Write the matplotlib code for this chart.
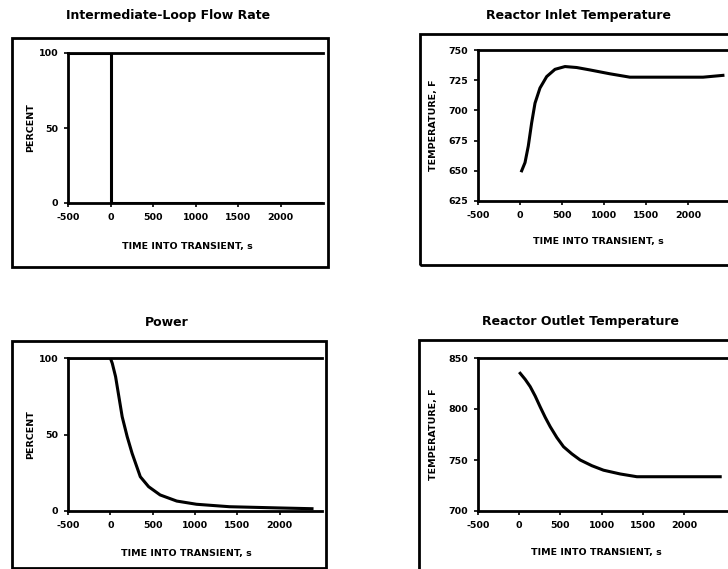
import matplotlib
matplotlib.use("Agg")
import matplotlib.pyplot as plt
from matplotlib.patches import Rectangle

# ---- data ----
flow_t = [-500, 0, 0, 2500]
flow_pct = [100, 100, 0, 0]

inlet_t = [20, 60, 99, 139, 179, 238, 318, 417, 536, 675, 833, 1071, 1309,
           1785, 2180, 2417]
inlet_temp = [650, 656.8, 670.5, 689.7, 706, 718.5, 728, 734, 736.3, 735.5,
              733.5, 730.3, 727.5, 727.5, 727.5, 729]

power_t = [-500, 0, 23, 62, 101, 140, 199, 257, 354, 452, 588, 784, 1018,
           1407, 1992, 2382]
power_pct = [100, 100, 96.5, 87.8, 74.7, 61.6, 48.6, 37.7, 22.4, 15.9, 10.5,
             6.5, 4.4, 2.8, 2.0, 1.5]

outlet_t = [12, 73, 133, 194, 255, 316, 376, 457, 538, 639, 740, 882, 1023,
            1226, 1428, 2439]
outlet_temp = [835, 829, 822, 812.7, 802, 791.8, 782.7, 772, 763, 756, 750,
               744.4, 740, 736.3, 733.6, 733.6]

time_ticks = [-500, 0, 500, 1000, 1500, 2000]
pct_ticks = [0, 50, 100]
inlet_ticks = [625, 650, 675, 700, 725, 750]
outlet_ticks = [700, 750, 800, 850]

W, H = 728, 569
fig = plt.figure(figsize=(W / 100, H / 100), dpi=100)
fig.patch.set_facecolor("white")


def rect(left, top, right, bottom):
    return [left / W, 1 - bottom / H, (right - left) / W, (bottom - top) / H]


def frame(left, top, right, bottom):
    r = Rectangle((left / W, 1 - bottom / H), (right - left) / W, (bottom - top) / H,
                  transform=fig.transFigure, fill=False, lw=2.0, ec="black",
                  clip_on=False)
    fig.add_artist(r)


def panel(box, xlim, ylim, yticks, ylabel, xl_pos, yl_pos):
    ax = fig.add_axes(rect(*box))
    ax.set_xlim(*xlim)
    ax.set_ylim(*ylim)
    ax.set_xticks(time_ticks)
    ax.set_yticks(yticks)
    ax.set_xticklabels([str(v) for v in time_ticks])
    ax.spines["right"].set_visible(False)
    for s in ["left", "top", "bottom"]:
        ax.spines[s].set_linewidth(2.0)
    ax.tick_params(direction="out", length=3, width=1.2, pad=4,
                   labelsize=6.8)
    for lab in ax.get_xticklabels() + ax.get_yticklabels():
        lab.set_fontweight("bold")
    ax.set_xlabel("TIME INTO TRANSIENT, s", fontsize=6.8, fontweight="bold")
    ax.set_ylabel(ylabel, fontsize=6.8, fontweight="bold")
    ax.xaxis.set_label_coords(*xl_pos)
    ax.yaxis.set_label_coords(*yl_pos)
    return ax


# outer frames around each panel
frame(12, 38, 328, 267)
frame(420, 34, 770, 265)
frame(12, 341, 326, 568)
frame(419, 340, 770, 600)

# Intermediate-loop flow rate
ax1 = panel((68, 53, 323, 203), (-500, 2500), (0, 100), pct_ticks, "PERCENT",
            (0.467, -0.26), (-0.13, 0.5))
ax1.plot(flow_t, flow_pct, color="black", lw=2.2)

# Reactor inlet temperature
ax2 = panel((478, 50, 745, 201), (-500, 2680), (625, 750), inlet_ticks,
            "TEMPERATURE, F", (0.449, -0.24), (-0.15, 0.5))
ax2.plot(inlet_t, inlet_temp, color="black", lw=2.2)

# Power
ax3 = panel((68, 358, 322, 511), (-500, 2500), (0, 100), pct_ticks, "PERCENT",
            (0.467, -0.25), (-0.13, 0.5))
ax3.plot(power_t, power_pct, color="black", lw=2.2)

# Reactor outlet temperature
ax4 = panel((478, 358, 745, 511), (-500, 2740), (700, 850), outlet_ticks,
            "TEMPERATURE, F", (0.442, -0.24), (-0.15, 0.5))
ax4.plot(outlet_t, outlet_temp, color="black", lw=2.2)

# titles placed at their positions in the scan
title_kw = dict(ha="center", va="center", fontsize=9, fontweight="bold")
fig.text(168 / W, 1 - 15 / H, "Intermediate-Loop Flow Rate", **title_kw)
fig.text(579 / W, 1 - 15 / H, "Reactor Inlet Temperature", **title_kw)
fig.text(167 / W, 1 - 323 / H, "Power", **title_kw)
fig.text(581 / W, 1 - 322 / H, "Reactor Outlet Temperature", **title_kw)

fig.savefig("out.png", dpi=100)
